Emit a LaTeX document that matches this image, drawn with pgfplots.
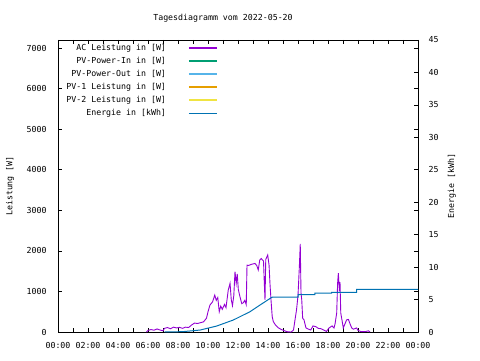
\documentclass[border=0pt]{standalone}
\usepackage{pgfplots}
\pgfplotsset{compat=1.18}
\usepackage{fontspec}
\setmainfont{DejaVu Sans Mono}
\setmonofont{DejaVu Sans Mono}
\newcommand\gf{\fontsize{8.3}{9.5}\selectfont}
\definecolor{cac}{HTML}{9400D3}
\definecolor{cin}{HTML}{009E73}
\definecolor{cout}{HTML}{56B4E9}
\definecolor{cpva}{HTML}{E69F00}
\definecolor{cpvb}{HTML}{F0E442}
\definecolor{energycol}{HTML}{0072B2}
\begin{document}
\begin{tikzpicture}[x=1bp,y=1bp]
\path[use as bounding box] (0,0) rectangle (480,360);
\node[font=\gf] at (223,342) {Tagesdiagramm vom 2022-05-20};
\begin{axis}[
  at={(58bp,28bp)}, anchor=south west, scale only axis,
  width=360bp, height=292bp,
  xmin=0, xmax=24, ymin=0, ymax=7200,
  xtick={0,1,...,24},
  xticklabels={00:00,,02:00,,04:00,,06:00,,08:00,,10:00,,12:00,,14:00,,16:00,,18:00,,20:00,,22:00,,00:00},
  ytick={0,1000,...,7000},
  tick align=inside, major tick length=4bp,
  tick style={black, line width=0.6pt},
  axis line style={line width=0.8pt},
  ticklabel style={font=\gf},
  xticklabel style={yshift=-7bp},
  yticklabel style={xshift=-8bp},
  /pgf/number format/assume math mode=true,
  /pgf/number format/1000 sep={},
  ylabel={Leistung [W]},
  ylabel style={font=\gf, at={(axis description cs:-0.133,0.5)}, anchor=center, rotate=0},
  legend cell align=right,
  legend plot pos=right,
  legend image code/.code={\path[draw=none,fill=none] (0bp,0bp) rectangle (21bp,0.1bp); \draw[#1, line width=1.5bp] (21bp,0bp) -- (49bp,0bp);},
  legend style={draw=none, fill=none, font=\gf, at={(axis description cs:0.447,0.997)}, anchor=north east, row sep=1.3bp, inner sep=1bp},
]
\addplot[cac, line width=0.9pt] coordinates {
(5.90,0) (6.00,40) (6.20,60) (6.40,45) (6.60,75) (6.80,50) (7.00,30) (7.10,90) (7.30,110) (7.50,80) (7.70,120) (7.90,100) (8.10,115) (8.30,90) (8.50,120) (8.70,110) (8.90,170) (9.10,220) (9.30,210) (9.50,230) (9.70,250) (9.90,340) (10.00,500) (10.13,665) (10.30,740) (10.45,910) (10.55,780) (10.65,850) (10.75,500) (10.85,640) (10.95,560) (11.10,680) (11.20,600) (11.35,1035) (11.47,1200) (11.55,800) (11.63,650) (11.72,900) (11.80,1490) (11.88,1200) (11.95,1430) (12.02,1050) (12.13,870) (12.25,700) (12.35,720) (12.45,780) (12.55,670) (12.60,1650) (12.70,1640) (12.90,1670) (13.13,1690) (13.25,1640) (13.35,1530) (13.45,1775) (13.55,1810) (13.70,1750) (13.75,1240) (13.80,790) (13.85,1790) (13.91,1840) (13.98,1900) (14.07,1650) (14.13,1200) (14.20,790) (14.28,380) (14.35,260) (14.50,170) (14.70,100) (14.90,60) (15.10,30) (15.30,5) (15.55,0) (15.70,50) (15.80,300) (15.90,540) (16.00,900) (16.09,1610) (16.15,2170) (16.20,960) (16.25,790) (16.31,340) (16.40,300) (16.53,100) (16.70,70) (16.85,50) (17.00,150) (17.20,130) (17.35,90) (17.55,80) (17.70,50) (17.90,15) (18.07,100) (18.27,150) (18.40,100) (18.47,200) (18.58,470) (18.64,1200) (18.69,1450) (18.76,1000) (18.80,1230) (18.85,470) (18.91,340) (19.02,100) (19.13,200) (19.24,300) (19.36,310) (19.47,200) (19.58,100) (19.69,70) (19.91,100) (20.0,40) (20.2,10) (20.5,10) (20.7,30) (20.8,0)
};
\addlegendentry{AC Leistung in [W]}
\addlegendimage{draw=cin}
\addlegendentry{PV-Power-In in [W]}
\addlegendimage{draw=cout}
\addlegendentry{PV-Power-Out in [W]}
\addlegendimage{draw=cpva}
\addlegendentry{PV-1 Leistung in [W]}
\addlegendimage{draw=cpvb}
\addlegendentry{PV-2 Leistung in [W]}
\addlegendimage{draw=energycol}
\addlegendentry{Energie in [kWh]}
\end{axis}
\begin{axis}[
  at={(58bp,28bp)}, anchor=south west, scale only axis,
  width=360bp, height=292bp,
  xmin=0, xmax=24, ymin=0, ymax=45,
  axis x line=none, axis y line*=right,
  ytick={0,5,...,45},
  tick align=inside, major tick length=4bp,
  tick style={black, line width=0.6pt},
  axis line style={line width=0.8pt},
  ticklabel style={font=\gf},
  yticklabel style={xshift=7bp},
  /pgf/number format/assume math mode=true,
  ylabel={Energie [kWh]},
  ylabel style={font=\gf, at={(axis description cs:1.094,0.5)}, anchor=center, rotate=0},
]
\addplot[energycol, line width=1pt] coordinates {
(7.1,0) (8.3,0.05) (9.47,0.3) (10.58,0.92) (11.69,1.85) (12.8,3.13) (13.47,4.16) (14.25,5.34) (14.35,5.39) (16.0,5.39) (16.0,5.75) (17.13,5.75) (17.13,6.0) (18.24,6.0) (18.24,6.11) (19.9,6.11) (19.9,6.57) (24,6.57)
};
\end{axis}
\end{tikzpicture}
\end{document}
